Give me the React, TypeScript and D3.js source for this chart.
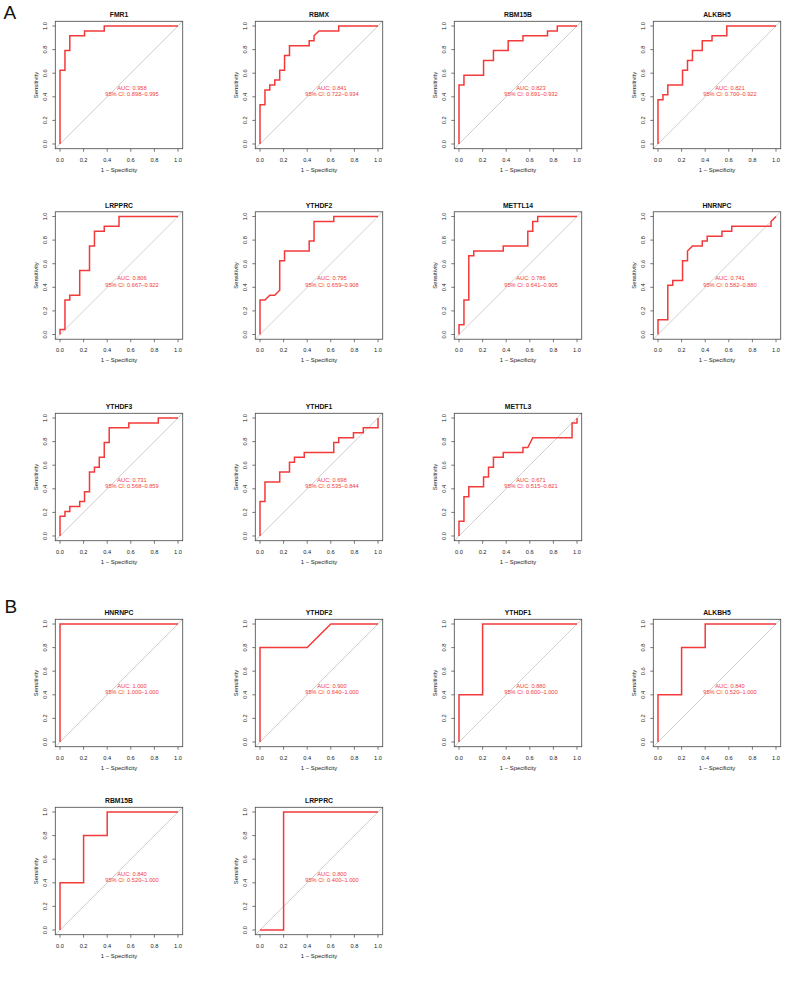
import React from 'react';
import * as d3 from 'd3';

type Pt = [number, number];

// ---- Panel A: training set ROC curves (x = 1 - specificity, y = sensitivity)
const namesA = ['FMR1', 'RBMX', 'RBM15B', 'ALKBH5', 'LRPPRC', 'YTHDF2', 'METTL14', 'HNRNPC', 'YTHDF3', 'YTHDF1', 'METTL3'];
const aucA = [0.958, 0.841, 0.823, 0.821, 0.806, 0.795, 0.786, 0.741, 0.731, 0.698, 0.671];
const ciLowA = [0.898, 0.722, 0.691, 0.7, 0.667, 0.659, 0.641, 0.582, 0.568, 0.535, 0.515];
const ciHighA = [0.995, 0.934, 0.932, 0.922, 0.922, 0.908, 0.905, 0.88, 0.859, 0.844, 0.821];

const rocFMR1: Pt[] = [[0, 0], [0, 0.625], [0.042, 0.625], [0.042, 0.792], [0.083, 0.792], [0.083, 0.917], [0.208, 0.917], [0.208, 0.958], [0.375, 0.958], [0.375, 1], [1, 1]];
const rocRBMX: Pt[] = [[0, 0], [0, 0.333], [0.042, 0.333], [0.042, 0.458], [0.083, 0.458], [0.083, 0.5], [0.125, 0.5], [0.125, 0.542], [0.167, 0.542], [0.167, 0.625], [0.208, 0.625], [0.208, 0.75], [0.25, 0.75], [0.25, 0.833], [0.417, 0.833], [0.417, 0.875], [0.458, 0.875], [0.458, 0.917], [0.5, 0.958], [0.667, 0.958], [0.667, 1], [1, 1]];
const rocRBM15B: Pt[] = [[0, 0], [0, 0.5], [0.042, 0.5], [0.042, 0.583], [0.208, 0.583], [0.208, 0.708], [0.292, 0.708], [0.292, 0.792], [0.417, 0.792], [0.417, 0.875], [0.542, 0.875], [0.542, 0.917], [0.75, 0.917], [0.75, 0.958], [0.833, 0.958], [0.833, 1], [1, 1]];
const rocALKBH5: Pt[] = [[0, 0], [0, 0.375], [0.042, 0.375], [0.042, 0.417], [0.083, 0.417], [0.083, 0.5], [0.208, 0.5], [0.208, 0.625], [0.25, 0.625], [0.25, 0.708], [0.292, 0.708], [0.292, 0.792], [0.375, 0.792], [0.375, 0.875], [0.458, 0.875], [0.458, 0.917], [0.583, 0.917], [0.583, 1], [1, 1]];
const rocLRPPRC: Pt[] = [[0, 0], [0, 0.042], [0.042, 0.042], [0.042, 0.292], [0.083, 0.292], [0.083, 0.333], [0.167, 0.333], [0.167, 0.542], [0.25, 0.542], [0.25, 0.75], [0.292, 0.75], [0.292, 0.875], [0.375, 0.875], [0.375, 0.917], [0.5, 0.917], [0.5, 1], [1, 1]];
const rocYTHDF2: Pt[] = [[0, 0], [0, 0.292], [0.042, 0.292], [0.083, 0.333], [0.125, 0.333], [0.167, 0.375], [0.167, 0.625], [0.208, 0.625], [0.208, 0.708], [0.417, 0.708], [0.417, 0.792], [0.458, 0.792], [0.458, 0.958], [0.625, 0.958], [0.625, 1], [1, 1]];
const rocMETTL14: Pt[] = [[0, 0], [0, 0.083], [0.042, 0.083], [0.042, 0.292], [0.083, 0.292], [0.083, 0.667], [0.125, 0.667], [0.125, 0.708], [0.375, 0.708], [0.375, 0.75], [0.583, 0.75], [0.583, 0.875], [0.625, 0.875], [0.625, 0.958], [0.667, 0.958], [0.667, 1], [1, 1]];
const rocHNRNPC: Pt[] = [[0, 0], [0, 0.125], [0.083, 0.125], [0.083, 0.417], [0.125, 0.417], [0.125, 0.458], [0.208, 0.458], [0.208, 0.625], [0.25, 0.625], [0.25, 0.708], [0.292, 0.75], [0.375, 0.75], [0.375, 0.792], [0.417, 0.792], [0.417, 0.833], [0.542, 0.833], [0.542, 0.875], [0.625, 0.875], [0.625, 0.917], [0.958, 0.917], [0.958, 0.958], [1, 1]];
const rocYTHDF3: Pt[] = [[0, 0], [0, 0.167], [0.042, 0.167], [0.042, 0.208], [0.083, 0.208], [0.083, 0.25], [0.167, 0.25], [0.167, 0.292], [0.208, 0.292], [0.208, 0.375], [0.25, 0.375], [0.25, 0.542], [0.292, 0.542], [0.292, 0.583], [0.333, 0.583], [0.333, 0.667], [0.375, 0.667], [0.375, 0.792], [0.417, 0.792], [0.417, 0.917], [0.583, 0.917], [0.583, 0.958], [0.833, 0.958], [0.833, 1], [1, 1]];
const rocYTHDF1: Pt[] = [[0, 0], [0, 0.292], [0.042, 0.292], [0.042, 0.458], [0.167, 0.458], [0.167, 0.542], [0.25, 0.542], [0.25, 0.625], [0.292, 0.625], [0.292, 0.667], [0.375, 0.667], [0.375, 0.708], [0.625, 0.708], [0.625, 0.792], [0.667, 0.792], [0.667, 0.833], [0.792, 0.833], [0.792, 0.875], [0.875, 0.875], [0.875, 0.917], [1, 0.917], [1, 1]];
const rocMETTL3: Pt[] = [[0, 0], [0, 0.125], [0.042, 0.125], [0.042, 0.333], [0.083, 0.333], [0.083, 0.417], [0.208, 0.417], [0.208, 0.5], [0.25, 0.5], [0.25, 0.583], [0.292, 0.583], [0.292, 0.667], [0.375, 0.667], [0.375, 0.708], [0.542, 0.708], [0.542, 0.75], [0.583, 0.75], [0.625, 0.833], [0.958, 0.833], [0.958, 0.958], [1, 0.958], [1, 1]];
const rocA = [rocFMR1, rocRBMX, rocRBM15B, rocALKBH5, rocLRPPRC, rocYTHDF2, rocMETTL14, rocHNRNPC, rocYTHDF3, rocYTHDF1, rocMETTL3];

// ---- Panel B: validation set
const namesB = ['HNRNPC', 'YTHDF2', 'YTHDF1', 'ALKBH5', 'RBM15B', 'LRPPRC'];
const aucB = [1.0, 0.9, 0.88, 0.84, 0.84, 0.8];
const ciLowB = [1.0, 0.64, 0.6, 0.52, 0.52, 0.4];
const ciHighB = [1.0, 1.0, 1.0, 1.0, 1.0, 1.0];

const rocHNRNPCb: Pt[] = [[0, 0], [0, 1], [1, 1]];
const rocYTHDF2b: Pt[] = [[0, 0], [0, 0.8], [0.4, 0.8], [0.6, 1], [1, 1]];
const rocYTHDF1b: Pt[] = [[0, 0], [0, 0.4], [0.2, 0.4], [0.2, 1], [1, 1]];
const rocALKBH5b: Pt[] = [[0, 0], [0, 0.4], [0.2, 0.4], [0.2, 0.8], [0.4, 0.8], [0.4, 1], [1, 1]];
const rocRBM15Bb: Pt[] = [[0, 0], [0, 0.4], [0.2, 0.4], [0.2, 0.8], [0.4, 0.8], [0.4, 1], [1, 1]];
const rocLRPPRCb: Pt[] = [[0, 0], [0.2, 0], [0.2, 1], [1, 1]];
const rocB = [rocHNRNPCb, rocYTHDF2b, rocYTHDF1b, rocALKBH5b, rocRBM15Bb, rocLRPPRCb];

const axisTicks = [0, 0.2, 0.4, 0.6, 0.8, 1.0];

// layout (px)
const colX = [60, 260, 459, 658];
const rowTopA = [26, 216.5, 418];
const rowTopB = [624, 812];
const SIZE = 118;
const FONT = "'Liberation Sans', Arial, Helvetica, sans-serif";
const RED = '#f23a3a';

interface PanelProps {
  x0: number;
  top: number;
  name: string;
  roc: Pt[];
  auc: number;
  lo: number;
  hi: number;
}

const RocPanel: React.FC<PanelProps> = ({ x0, top, name, roc, auc, lo, hi }) => {
  const x = d3.scaleLinear().domain([0, 1]).range([x0, x0 + SIZE]);
  const y = d3.scaleLinear().domain([0, 1]).range([top + SIZE, top]);
  const line = d3.line<Pt>().x(d => x(d[0])).y(d => y(d[1]));
  const f1 = d3.format('.1f');
  const f3 = d3.format('.3f');

  const bl = x(-0.04), br = x(1.04), bt = y(1.04), bb = y(-0.04);

  return (
    <g fontFamily={FONT}>
      <text x={x(0.5)} y={y(1) - 9} textAnchor="middle" fontWeight="bold" fontSize={6.8} fill="#111">
        {name}
      </text>
      {/* chance diagonal */}
      <line x1={x(-0.04)} y1={y(-0.04)} x2={x(1.04)} y2={y(1.04)} stroke="#c4c4c4" strokeWidth={0.8} />
      {/* box */}
      <rect x={bl} y={bt} width={br - bl} height={bb - bt} fill="none" stroke="#444" strokeWidth={0.8} />
      {/* x axis */}
      {axisTicks.map(t => (
        <g key={'x' + t}>
          <line x1={x(t)} x2={x(t)} y1={bb} y2={bb + 3} stroke="#444" strokeWidth={0.7} />
          <text x={x(t)} y={bb + 13} textAnchor="middle" fontSize={5.7} fill="#222">{f1(t)}</text>
        </g>
      ))}
      <text x={x(0.5)} y={bb + 23} textAnchor="middle" fontSize={5.9} fill="#222">1 − Specificity</text>
      {/* y axis */}
      {axisTicks.map(t => (
        <g key={'y' + t}>
          <line x1={bl} x2={bl - 3} y1={y(t)} y2={y(t)} stroke="#444" strokeWidth={0.7} />
          <text transform={`translate(${bl - 8.5},${y(t)}) rotate(-90)`} textAnchor="middle" fontSize={5.7} fill="#222">
            {f1(t)}
          </text>
        </g>
      ))}
      <text transform={`translate(${bl - 17.5},${y(0.5)}) rotate(-90)`} textAnchor="middle" fontSize={5.9} fill="#222">
        Sensitivity
      </text>
      {/* ROC curve */}
      <path d={line(roc) ?? ''} fill="none" stroke={RED} strokeWidth={1.5} strokeLinejoin="miter" />
      <text x={x(0.61)} y={y(0.5) + 4.5} textAnchor="middle" fontSize={5.7} fill={RED}>
        {`AUC: ${f3(auc)}`}
      </text>
      <text x={x(0.61)} y={y(0.5) + 11.3} textAnchor="middle" fontSize={5.7} fill={RED}>
        {`95% CI: ${f3(lo)}–${f3(hi)}`}
      </text>
    </g>
  );
};

export default function App() {
  return (
    <svg
      width={786}
      height={985}
      style={{ position: 'absolute', left: 0, top: 0, background: '#fff' }}
    >
      <rect width={786} height={985} fill="#fff" />
      <text x={3.5} y={18.5} fontSize={19} fontFamily={FONT} fill="#111">A</text>
      <text x={4.5} y={613} fontSize={19} fontFamily={FONT} fill="#111">B</text>
      {namesA.map((n, i) => (
        <RocPanel
          key={'A' + n}
          x0={colX[i % 4]}
          top={rowTopA[Math.floor(i / 4)]}
          name={n}
          roc={rocA[i]}
          auc={aucA[i]}
          lo={ciLowA[i]}
          hi={ciHighA[i]}
        />
      ))}
      {namesB.map((n, i) => (
        <RocPanel
          key={'B' + n}
          x0={colX[i % 4]}
          top={rowTopB[Math.floor(i / 4)]}
          name={n}
          roc={rocB[i]}
          auc={aucB[i]}
          lo={ciLowB[i]}
          hi={ciHighB[i]}
        />
      ))}
    </svg>
  );
}
